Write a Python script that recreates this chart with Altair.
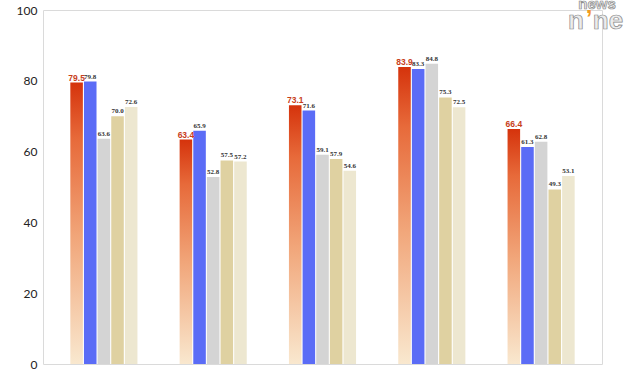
import altair as alt
import pandas as pd

groups = ["G1", "G2", "G3", "G4", "G5"]
series = ["S1", "S2", "S3", "S4", "S5"]
s1 = [79.5, 63.4, 73.1, 83.9, 66.4]
s2 = [79.8, 65.9, 71.6, 83.3, 61.3]
s3 = [63.6, 52.8, 59.1, 84.8, 62.8]
s4 = [70.0, 57.5, 57.9, 75.3, 49.3]
s5 = [72.6, 57.2, 54.6, 72.5, 53.1]
other_colors = ["#5b6cf6", "#d4d4d4", "#dfd1a1", "#ede7d0"]

rows = []
for name, vals in zip(series, [s1, s2, s3, s4, s5]):
    for g, v in zip(groups, vals):
        rows.append({"group": g, "series": name, "value": v, "label": f"{v:.1f}"})
df = pd.DataFrame(rows)
red_df = df[df.series == "S1"]
oth_df = df[df.series != "S1"]

xs = alt.X("group:N", scale=alt.Scale(domain=groups, paddingInner=0.386, paddingOuter=0.25), axis=None)
xo = alt.XOffset("series:N", scale=alt.Scale(domain=series, paddingInner=0.08, paddingOuter=0))
ys = alt.Y("value:Q", scale=alt.Scale(domain=[0, 100]),
           axis=alt.Axis(values=[0, 20, 40, 60, 80, 100], grid=False, ticks=False, domain=False,
                         labelFontSize=12, labelColor="#222", labelFont="Lato", labelPadding=6,
                         title=None))

grad = alt.Gradient(gradient="linear",
                    stops=[alt.GradientStop(color="#f9e8cf", offset=0),
                           alt.GradientStop(color="#f1a67a", offset=0.45),
                           alt.GradientStop(color="#e76a3a", offset=0.8),
                           alt.GradientStop(color="#d5330c", offset=1)],
                    x1=1, x2=1, y1=1, y2=0)

red_bars = alt.Chart(red_df).mark_bar(color=grad).encode(x=xs, xOffset=xo, y=ys)
other_bars = alt.Chart(oth_df).mark_bar().encode(
    x=xs, xOffset=xo, y=ys,
    color=alt.Color("series:N", scale=alt.Scale(domain=series[1:], range=other_colors), legend=None))

red_text = alt.Chart(red_df).mark_text(dy=-5, fontSize=8.5, fontWeight="bold", color="#c8401a",
                                       font="Liberation Sans").encode(
    x=xs, xOffset=xo, y="value:Q", text="label:N")
oth_text = alt.Chart(oth_df).mark_text(dy=-5, fontSize=7, fontWeight="bold", color="#333",
                                       font="Liberation Serif").encode(
    x=xs, xOffset=xo, y="value:Q", text="label:N")

logo_style = dict(fontWeight="bold", font="Liberation Sans", color="#ececec", stroke="#8a8a8a",
                  strokeWidth=0.7, align="center", baseline="middle")
logo1 = alt.Chart(pd.DataFrame({"t": ["news"]})).mark_text(fontSize=15, **logo_style).encode(
    text="t:N", x=alt.value(554), y=alt.value(-6))
logo2 = alt.Chart(pd.DataFrame({"t": ["n"]})).mark_text(fontSize=26, **logo_style).encode(
    text="t:N", x=alt.value(533), y=alt.value(11))
logo3 = alt.Chart(pd.DataFrame({"t": ["ne"]})).mark_text(fontSize=26, **logo_style).encode(
    text="t:N", x=alt.value(565), y=alt.value(11))
logo4 = alt.Chart(pd.DataFrame({"t": ["\u2019"]})).mark_text(fontSize=24, fontWeight="bold",
                                     font="Liberation Sans", color="#f39a1e",
                                     align="center", baseline="middle").encode(
    text="t:N", x=alt.value(546), y=alt.value(10))

chart = alt.layer(red_bars, other_bars, red_text, oth_text, logo1, logo2, logo3, logo4).properties(
    width=559, height=354,
    autosize=alt.AutoSizeParams(type="none"),
    padding={"left": 43, "top": 10, "right": 38, "bottom": 8},
    background="white",
).configure_view(stroke="#dadada", strokeWidth=1)

chart.save("out.html", embed_options={"renderer": "svg", "actions": False})
